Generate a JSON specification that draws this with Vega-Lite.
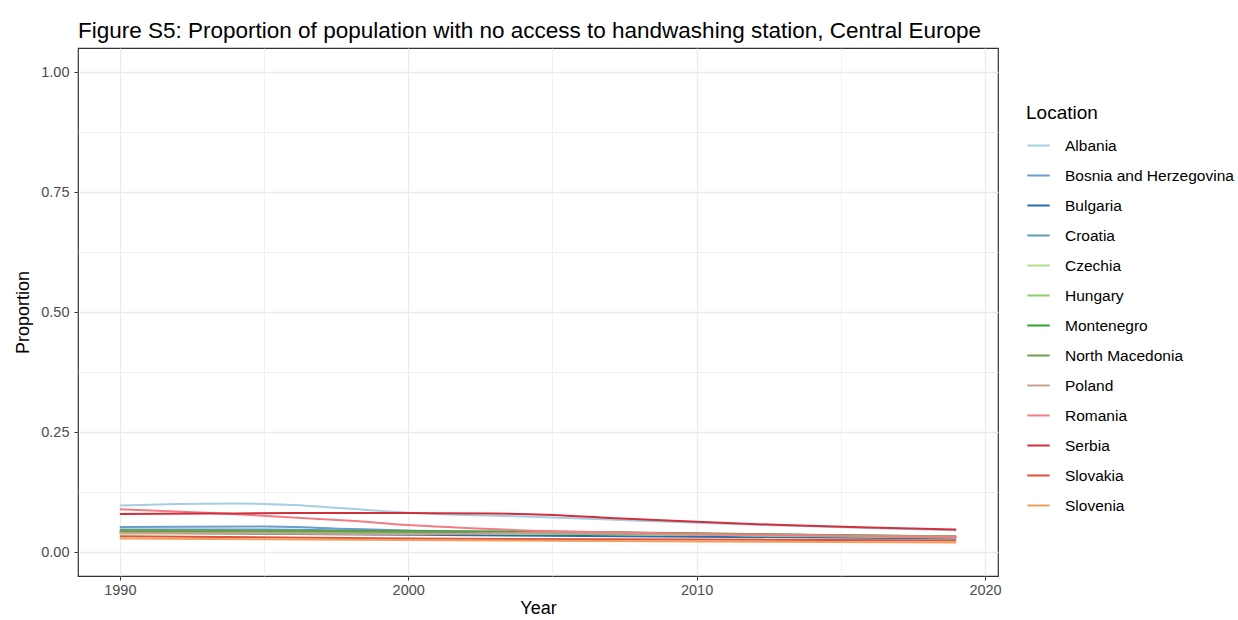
{
  "$schema": "https://vega.github.io/schema/vega-lite/v6.json",
  "autosize": {"type": "none"},
  "width": 920,
  "height": 528,
  "padding": {"left": 78, "top": 48, "right": 240, "bottom": 44},
  "background": "white",
  "title": {
    "text": "Figure S5: Proportion of population with no access to handwashing station, Central Europe",
    "anchor": "start",
    "frame": "group",
    "font": "Liberation Sans",
    "fontSize": 22.5,
    "fontWeight": "normal",
    "color": "#000000",
    "offset": 6
  },
  "config": {
    "view": {"stroke": "#333333", "strokeWidth": 1.2},
    "font": "Liberation Sans"
  },
  "data": {
    "values": [
      {"Location": "Albania", "Year": 1990, "Proportion": 0.097},
      {"Location": "Albania", "Year": 1992, "Proportion": 0.100},
      {"Location": "Albania", "Year": 1994, "Proportion": 0.101},
      {"Location": "Albania", "Year": 1996, "Proportion": 0.098},
      {"Location": "Albania", "Year": 1998, "Proportion": 0.090},
      {"Location": "Albania", "Year": 2000, "Proportion": 0.082},
      {"Location": "Albania", "Year": 2002, "Proportion": 0.077},
      {"Location": "Albania", "Year": 2004, "Proportion": 0.074},
      {"Location": "Albania", "Year": 2006, "Proportion": 0.070},
      {"Location": "Albania", "Year": 2008, "Proportion": 0.065},
      {"Location": "Albania", "Year": 2010, "Proportion": 0.061},
      {"Location": "Albania", "Year": 2013, "Proportion": 0.055},
      {"Location": "Albania", "Year": 2016, "Proportion": 0.050},
      {"Location": "Albania", "Year": 2019, "Proportion": 0.045},
      {"Location": "Bosnia and Herzegovina", "Year": 1990, "Proportion": 0.052},
      {"Location": "Bosnia and Herzegovina", "Year": 1995, "Proportion": 0.053},
      {"Location": "Bosnia and Herzegovina", "Year": 1998, "Proportion": 0.048},
      {"Location": "Bosnia and Herzegovina", "Year": 2000, "Proportion": 0.045},
      {"Location": "Bosnia and Herzegovina", "Year": 2005, "Proportion": 0.042},
      {"Location": "Bosnia and Herzegovina", "Year": 2010, "Proportion": 0.038},
      {"Location": "Bosnia and Herzegovina", "Year": 2015, "Proportion": 0.034},
      {"Location": "Bosnia and Herzegovina", "Year": 2019, "Proportion": 0.031},
      {"Location": "Bulgaria", "Year": 1990, "Proportion": 0.040},
      {"Location": "Bulgaria", "Year": 2000, "Proportion": 0.036},
      {"Location": "Bulgaria", "Year": 2010, "Proportion": 0.032},
      {"Location": "Bulgaria", "Year": 2019, "Proportion": 0.028},
      {"Location": "Croatia", "Year": 1990, "Proportion": 0.047},
      {"Location": "Croatia", "Year": 1995, "Proportion": 0.047},
      {"Location": "Croatia", "Year": 2000, "Proportion": 0.043},
      {"Location": "Croatia", "Year": 2010, "Proportion": 0.036},
      {"Location": "Croatia", "Year": 2019, "Proportion": 0.030},
      {"Location": "Czechia", "Year": 1990, "Proportion": 0.038},
      {"Location": "Czechia", "Year": 2000, "Proportion": 0.040},
      {"Location": "Czechia", "Year": 2010, "Proportion": 0.036},
      {"Location": "Czechia", "Year": 2019, "Proportion": 0.030},
      {"Location": "Hungary", "Year": 1990, "Proportion": 0.042},
      {"Location": "Hungary", "Year": 2000, "Proportion": 0.040},
      {"Location": "Hungary", "Year": 2010, "Proportion": 0.036},
      {"Location": "Hungary", "Year": 2019, "Proportion": 0.031},
      {"Location": "Montenegro", "Year": 1990, "Proportion": 0.043},
      {"Location": "Montenegro", "Year": 1995, "Proportion": 0.044},
      {"Location": "Montenegro", "Year": 2000, "Proportion": 0.043},
      {"Location": "Montenegro", "Year": 2005, "Proportion": 0.042},
      {"Location": "Montenegro", "Year": 2010, "Proportion": 0.039},
      {"Location": "Montenegro", "Year": 2015, "Proportion": 0.035},
      {"Location": "Montenegro", "Year": 2019, "Proportion": 0.032},
      {"Location": "North Macedonia", "Year": 1990, "Proportion": 0.045},
      {"Location": "North Macedonia", "Year": 2000, "Proportion": 0.042},
      {"Location": "North Macedonia", "Year": 2010, "Proportion": 0.037},
      {"Location": "North Macedonia", "Year": 2019, "Proportion": 0.033},
      {"Location": "Poland", "Year": 1990, "Proportion": 0.040},
      {"Location": "Poland", "Year": 2000, "Proportion": 0.037},
      {"Location": "Poland", "Year": 2005, "Proportion": 0.040},
      {"Location": "Poland", "Year": 2010, "Proportion": 0.036},
      {"Location": "Poland", "Year": 2019, "Proportion": 0.032},
      {"Location": "Romania", "Year": 1990, "Proportion": 0.089},
      {"Location": "Romania", "Year": 1993, "Proportion": 0.082},
      {"Location": "Romania", "Year": 1996, "Proportion": 0.072},
      {"Location": "Romania", "Year": 1998, "Proportion": 0.065},
      {"Location": "Romania", "Year": 2000, "Proportion": 0.056},
      {"Location": "Romania", "Year": 2002, "Proportion": 0.050},
      {"Location": "Romania", "Year": 2004, "Proportion": 0.045},
      {"Location": "Romania", "Year": 2006, "Proportion": 0.042},
      {"Location": "Romania", "Year": 2010, "Proportion": 0.038},
      {"Location": "Romania", "Year": 2015, "Proportion": 0.034},
      {"Location": "Romania", "Year": 2019, "Proportion": 0.031},
      {"Location": "Serbia", "Year": 1990, "Proportion": 0.079},
      {"Location": "Serbia", "Year": 1993, "Proportion": 0.080},
      {"Location": "Serbia", "Year": 1996, "Proportion": 0.081},
      {"Location": "Serbia", "Year": 2000, "Proportion": 0.081},
      {"Location": "Serbia", "Year": 2003, "Proportion": 0.080},
      {"Location": "Serbia", "Year": 2005, "Proportion": 0.077},
      {"Location": "Serbia", "Year": 2007, "Proportion": 0.071},
      {"Location": "Serbia", "Year": 2010, "Proportion": 0.063},
      {"Location": "Serbia", "Year": 2013, "Proportion": 0.056},
      {"Location": "Serbia", "Year": 2016, "Proportion": 0.051},
      {"Location": "Serbia", "Year": 2019, "Proportion": 0.047},
      {"Location": "Slovakia", "Year": 1990, "Proportion": 0.033},
      {"Location": "Slovakia", "Year": 2000, "Proportion": 0.028},
      {"Location": "Slovakia", "Year": 2010, "Proportion": 0.026},
      {"Location": "Slovakia", "Year": 2019, "Proportion": 0.024},
      {"Location": "Slovenia", "Year": 1990, "Proportion": 0.028},
      {"Location": "Slovenia", "Year": 2000, "Proportion": 0.025},
      {"Location": "Slovenia", "Year": 2010, "Proportion": 0.022},
      {"Location": "Slovenia", "Year": 2019, "Proportion": 0.020}
    ]
  },
  "mark": {"type": "line", "strokeWidth": 2, "interpolate": "monotone"},
  "encoding": {
    "x": {
      "field": "Year",
      "type": "quantitative",
      "scale": {"domain": [1988.55, 2020.45], "nice": false, "zero": false},
      "axis": {
        "title": "Year",
        "values": [1990, 1995, 2000, 2005, 2010, 2015, 2020],
        "labelExpr": "datum.value % 10 == 0 ? datum.value : ''",
        "format": "d",
        "labelFont": "Liberation Sans",
        "labelFontSize": 14.5,
        "labelColor": "#4d4d4d",
        "labelPadding": 3,
        "titleFont": "Liberation Sans",
        "titleFontSize": 18,
        "titleFontWeight": "normal",
        "titleColor": "#000000",
        "titlePadding": 3,
        "domain": false,
        "ticks": true,
        "tickSize": 4,
        "tickColor": {"condition": {"test": "datum.value % 10 == 0", "value": "#333333"}, "value": "rgba(0,0,0,0)"},
        "gridColor": "#ebebeb",
        "gridWidth": {"condition": {"test": "datum.value % 10 == 0", "value": 1.3}, "value": 0.7}
      }
    },
    "y": {
      "field": "Proportion",
      "type": "quantitative",
      "scale": {"domain": [-0.05, 1.05], "nice": false, "zero": false},
      "axis": {
        "title": "Proportion",
        "values": [0, 0.125, 0.25, 0.375, 0.5, 0.625, 0.75, 0.875, 1.0],
        "labelExpr": "(datum.value * 4) % 1 == 0 ? format(datum.value, '.2f') : ''",
        "labelFont": "Liberation Sans",
        "labelFontSize": 14.5,
        "labelColor": "#4d4d4d",
        "labelPadding": 5,
        "titleFont": "Liberation Sans",
        "titleFontSize": 18,
        "titleFontWeight": "normal",
        "titleColor": "#000000",
        "titlePadding": 8,
        "domain": false,
        "ticks": true,
        "tickSize": 4,
        "tickColor": {"condition": {"test": "(datum.value * 4) % 1 == 0", "value": "#333333"}, "value": "rgba(0,0,0,0)"},
        "gridColor": "#ebebeb",
        "gridWidth": {"condition": {"test": "(datum.value * 4) % 1 == 0", "value": 1.3}, "value": 0.7}
      }
    },
    "color": {
      "field": "Location",
      "type": "nominal",
      "scale": {
        "domain": ["Albania", "Bosnia and Herzegovina", "Bulgaria", "Croatia", "Czechia", "Hungary", "Montenegro", "North Macedonia", "Poland", "Romania", "Serbia", "Slovakia", "Slovenia"],
        "range": ["#a6cee3", "#6a9ccc", "#2a6cb0", "#5f9fb0", "#b2df8a", "#8ccc6a", "#33a02c", "#6f9f50", "#c7a08c", "#f07c84", "#d0303c", "#e0503a", "#f0a060"]
      },
      "legend": {
        "title": "Location",
        "orient": "none",
        "legendX": 948,
        "legendY": 56,
        "titleFont": "Liberation Sans",
        "titleFontSize": 19,
        "titleFontWeight": "normal",
        "titleColor": "#000000",
        "titlePadding": 10,
        "labelFont": "Liberation Sans",
        "labelFontSize": 15.5,
        "labelColor": "#000000",
        "labelOffset": 14,
        "symbolType": "stroke",
        "symbolSize": 500,
        "symbolStrokeWidth": 2,
        "rowPadding": 9,
        "labelLimit": 250
      }
    }
  }
}
